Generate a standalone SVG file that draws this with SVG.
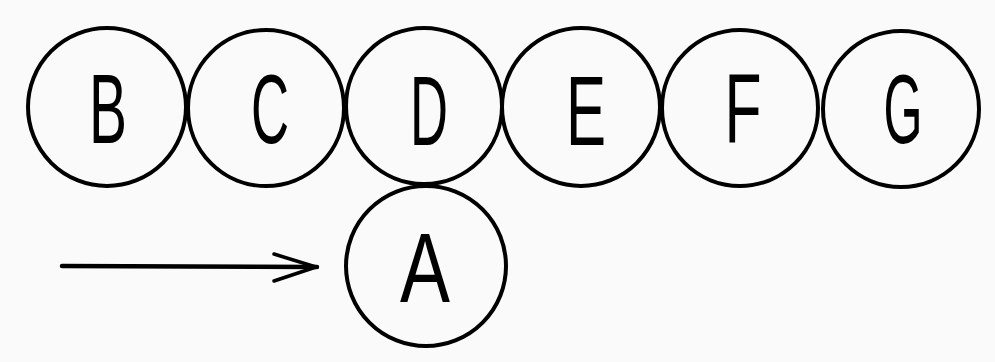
<svg xmlns="http://www.w3.org/2000/svg" width="995" height="362" viewBox="0 0 995 362">
<style>
.c{fill:none;stroke:#000;stroke-width:4}
.t{font-family:"Liberation Sans",Arial,sans-serif;font-size:98px;fill:#000;text-anchor:middle}
.ar{fill:none;stroke:#000;stroke-linecap:round;stroke-linejoin:round}
</style>
<rect width="995" height="362" fill="#fafafa"/>
<g id="node-B"><circle class="c" cx="107" cy="107" r="79"/><text class="t" x="108" y="143" textLength="38" lengthAdjust="spacingAndGlyphs">B</text></g>
<g id="node-C"><circle class="c" cx="266" cy="108" r="78"/><text class="t" x="270" y="143" textLength="38" lengthAdjust="spacingAndGlyphs">C</text></g>
<g id="node-D"><circle class="c" cx="424" cy="106" r="78"/><text class="t" x="429" y="145" textLength="38" lengthAdjust="spacingAndGlyphs">D</text></g>
<g id="node-E"><circle class="c" cx="581" cy="107" r="79"/><text class="t" x="586" y="145" textLength="40" lengthAdjust="spacingAndGlyphs">E</text></g>
<g id="node-F"><circle class="c" cx="740" cy="108" r="78"/><text class="t" x="743" y="142" textLength="37" lengthAdjust="spacingAndGlyphs">F</text></g>
<g id="node-G"><circle class="c" cx="901" cy="109" r="78"/><text class="t" x="903" y="143" textLength="39" lengthAdjust="spacingAndGlyphs">G</text></g>
<g id="node-A"><circle class="c" cx="426" cy="266" r="80"/><text class="t" x="425" y="302" textLength="50" lengthAdjust="spacingAndGlyphs">A</text></g>
<g id="connectors">
<path class="ar" d="M62 266 L317 267" stroke-width="4.5"/>
<path class="ar" d="M274 254 L316 267 L274 281" stroke-width="3.5"/>
</g>
</svg>
